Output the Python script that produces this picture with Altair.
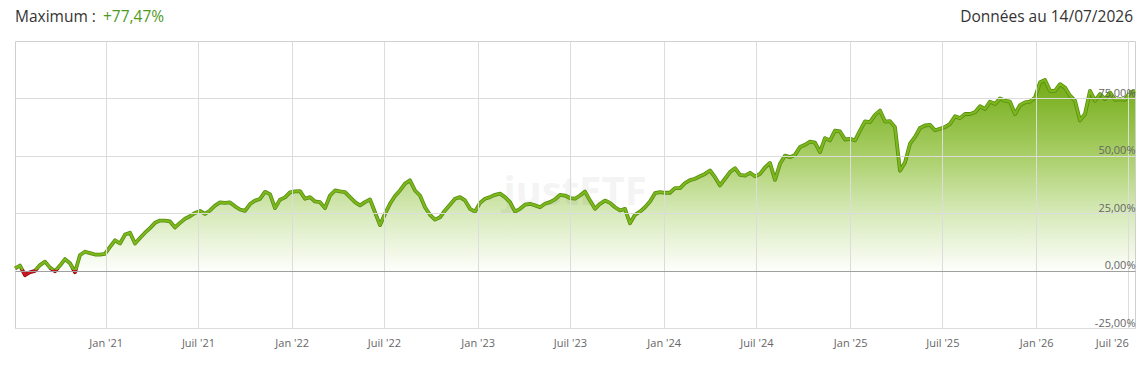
import altair as alt
import pandas as pd

# ---------------- data ----------------
start_date = "2020-07-07"
end_date = "2026-07-14"

perf = [
    1.0, 2.2, -2.0, -0.7, -0.1, 2.4, 3.9, 1.3, -0.3, 2.2,
    5.0, 3.2, -0.7, 6.8, 8.2, 7.6, 7.0, 7.0, 7.3, 10.3,
    13.2, 11.8, 15.7, 16.5, 11.8, 14.2, 16.5, 18.5, 20.8, 21.8,
    21.8, 21.4, 18.8, 20.8, 22.6, 23.7, 25.1, 26.0, 24.7, 26.2,
    28.3, 29.7, 29.5, 29.7, 28.0, 26.6, 26.0, 29.0, 30.5, 31.2,
    34.3, 33.3, 27.2, 30.9, 31.9, 34.1,
    34.5, 34.6, 31.3, 32.0, 30.1, 29.8, 27.2, 32.7, 34.9, 34.5,
    34.2, 32.0, 29.8, 28.4, 29.8, 31.0, 25.4, 19.8, 24.7, 29.1,
    32.5, 34.9, 37.9, 39.3, 34.9, 32.7, 27.6, 24.3, 22.2, 23.2,
    26.2, 28.7, 31.3, 32.0, 30.6, 26.9, 25.7, 29.5, 31.3, 32.0,
    33.0, 33.5, 32.0, 29.8, 25.7, 26.9, 28.7, 29.1, 28.4, 27.6,
    29.1, 29.8, 31.0, 33.0, 32.7, 31.6, 31.3,
    32.7, 34.4, 30.5, 26.9, 29.1, 30.5, 29.5, 27.6, 26.2, 26.9,
    20.6, 24.3, 25.7, 27.6, 30.1, 33.7, 34.2, 33.9, 33.9, 35.9,
    35.9, 38.1, 39.4, 40.0, 41.1, 42.1, 43.6, 40.7, 37.1, 40.0,
    42.9, 44.6, 41.7, 41.4, 42.6, 41.1, 42.1, 44.9, 46.9, 39.5,
    46.5, 50.1, 49.4, 50.4, 53.8, 54.8, 56.2, 55.7, 51.6, 57.7,
    56.7, 61.0, 60.6, 57.1, 57.4, 56.7, 61.0, 65.0, 64.7,
    67.8, 69.7, 64.9, 65.1, 62.5, 43.5, 47.1, 55.3, 58.2, 62.1,
    63.2, 63.5, 61.1, 61.8, 62.5, 63.9, 67.2, 66.4, 68.2, 68.2,
    69.0, 71.6, 70.4, 73.6, 72.6, 75.0, 74.0, 73.6, 68.2, 72.1,
    73.3, 73.6, 75.4, 82.0, 83.0, 78.3, 78.3, 81.2, 79.7, 76.2,
    74.0, 65.4, 68.2, 78.3, 74.0, 76.9, 74.7, 77.6, 74.4, 74.7,
    74.4, 77.6, 78.3,
]

y_ticks = [-25, 0, 25, 50, 75]
x_ticks = [(2021, 1), (2021, 7), (2022, 1), (2022, 7), (2023, 1), (2023, 7),
           (2024, 1), (2024, 7), (2025, 1), (2025, 7), (2026, 1), (2026, 7)]

header_left = ["Maximum : "]
header_value = ["+77,47%"]
header_right = ["Données au 14/07/2026"]
watermark = ["justETF"]

# ---------------- layout / style ----------------
W, H = 1120, 287
Y_MIN, Y_MAX = -25, 100
GREEN, GREEN_DARK = "#7ab81c", "#5a8c10"
RED, RED_DARK = "#d0141e", "#8c0c12"
FONT = "Open Sans"
SW_SHADOW, SW_LINE = 3.8, 2.2

dates = pd.date_range(start_date, end_date, periods=len(perf))
df = pd.DataFrame({"date": dates.strftime("%Y-%m-%dT%H:%M:%SZ"), "v": perf})

ppu = H / (Y_MAX - Y_MIN)
vmax, vmin = max(perf), min(perf)


def line_gradient(top, bottom, sw):
    span = (vmax - vmin) * ppu + sw
    z = (vmax * ppu + sw / 2) / span
    return {
        "gradient": "linear", "x1": 0, "x2": 0, "y1": 0, "y2": 1,
        "stops": [
            {"offset": 0, "color": top},
            {"offset": z, "color": top},
            {"offset": min(z + 0.0001, 1), "color": bottom},
            {"offset": 1, "color": bottom},
        ],
    }


area_gradient = {
    "gradient": "linear", "x1": 0, "x2": 0, "y1": 0, "y2": 1,
    "stops": [
        {"offset": 0, "color": "#72ab15"},
        {"offset": 0.39, "color": "#a8ce66"},
        {"offset": 0.7, "color": "#d7eaba"},
        {"offset": 1, "color": "#fdfefb"},
    ],
}

x_vals = [alt.DateTime(year=y, month=m, date=1, utc=True) for y, m in x_ticks]

x_enc = alt.X(
    "date:T",
    scale=alt.Scale(type="utc", nice=False),
    axis=alt.Axis(
        values=x_vals, title=None, grid=True, gridColor="#dcdcdc", domain=False,
        ticks=False, labelPadding=9, labelFontSize=11, labelColor="#666666",
        labelFont=FONT, labelOverlap=False, labelFlush=10, zindex=1,
        labelExpr="(utcFormat(datum.value, '%m') == '01' ? 'Jan' : 'Juil') + \" '\" + utcFormat(datum.value, '%y')",
    ),
)
y_scale = alt.Scale(domain=[Y_MIN, Y_MAX], nice=False, zero=False)
y_axis = alt.Axis(
    values=y_ticks, orient="right", title=None, grid=True,
    gridColor={"condition": {"test": "datum.value === 0", "value": "#a0a0a0"}, "value": "#dcdcdc"},
    domain=False, ticks=False, labelAlign="right", labelPadding=0,
    labelBaseline="alphabetic", labelOffset=-2, labelFontSize=11,
    labelColor="#666666", labelFont=FONT, labelFlush=False, labelOverlap=False, zindex=1,
    labelExpr="(datum.value < 0 ? '-' : '') + replace(format(abs(datum.value), '.2f'), '.', ',') + '%'",
)

base = alt.Chart(df)

area = base.transform_calculate(pos="max(datum.v, 0)").mark_area(
    color=area_gradient
).encode(x=x_enc, y=alt.Y("pos:Q", scale=y_scale, axis=y_axis), y2=alt.datum(0))

shadow = base.mark_line(
    color=line_gradient(GREEN_DARK, RED_DARK, SW_SHADOW), strokeWidth=SW_SHADOW, strokeJoin="round"
).encode(x="date:T", y=alt.Y("v:Q", scale=y_scale))

line = base.mark_line(
    color=line_gradient(GREEN, RED, SW_LINE), strokeWidth=SW_LINE, strokeJoin="round"
).encode(x="date:T", y=alt.Y("v:Q", scale=y_scale))

t1 = alt.Chart(pd.DataFrame({"t": header_left})).mark_text(
    align="left", baseline="middle", font=FONT, fontSize=15.5, color="#333333"
).encode(text="t:N", x=alt.value(0), y=alt.value(-24))

t2 = alt.Chart(pd.DataFrame({"t": header_value})).mark_text(
    align="left", baseline="middle", font=FONT, fontSize=15.5, color="#4f9a1e"
).encode(text="t:N", x=alt.value(88), y=alt.value(-24))

t3 = alt.Chart(pd.DataFrame({"t": header_right})).mark_text(
    align="right", baseline="middle", font=FONT, fontSize=15.5, color="#333333"
).encode(text="t:N", x=alt.value(W - 2), y=alt.value(-24))

wm = alt.Chart(pd.DataFrame({"t": watermark})).mark_text(
    align="center", baseline="middle", font=FONT, fontSize=40, fontWeight="bold",
    color="#000000", opacity=0.04
).encode(text="t:N", x=alt.value(560), y=alt.value(152))

chart = alt.layer(area, wm, shadow, line, t1, t2, t3).properties(
    width=W, height=H, autosize="none",
    padding={"left": 15, "top": 41, "right": 13, "bottom": 42},
    background="white",
).configure_view(stroke="#cfcfcf", strokeWidth=1)

chart.save("out.html", embed_options={"renderer": "svg", "actions": False})
